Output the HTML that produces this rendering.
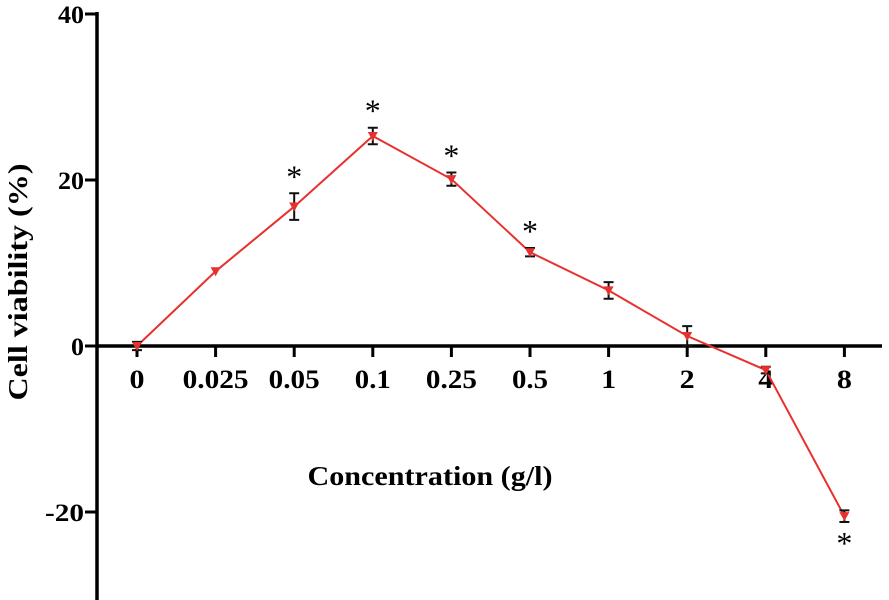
<!DOCTYPE html>
<html><head><meta charset="utf-8"><style>
body{margin:0;background:#fff;}
svg{display:block;font-family:"Liberation Serif",serif;}
</style></head><body>
<svg id="chart" width="889" height="600">
<g id="axes"></g><g id="plot"></g>
<text x="430" y="485" font-size="27" font-weight="bold" text-anchor="middle" textLength="245" lengthAdjust="spacingAndGlyphs">Concentration (g/l)</text>
<text transform="translate(27,282) rotate(-90)" font-size="27" font-weight="bold" text-anchor="middle" textLength="237" lengthAdjust="spacingAndGlyphs">Cell viability (%)</text>
</svg>
<script>
const categories=["0","0.025","0.05","0.1","0.25","0.5","1","2","4","8"];
const values=[0,9,16.8,25.3,20.1,11.3,6.7,1.2,-2.9,-20.5];
const errors=[0.5,0,1.6,1,0.8,0.5,1,1.2,0.4,0.7];
const significant=[0,0,1,1,1,1,0,0,0,-1];
const yTicks=[-20,0,20,40];
const NS="http://www.w3.org/2000/svg";
const x0=137,dx=78.6;
function xs(i){return x0+i*dx;}
function ys(v){return 346-v*8.3;}
function mk(tag,at,parent){const e=document.createElementNS(NS,tag);for(const k in at)e.setAttribute(k,at[k]);parent.appendChild(e);return e;}
const ax=document.getElementById('axes'),pl=document.getElementById('plot');
let e=mk('line',{x1:97,y1:12,x2:97,y2:600,stroke:'#000','stroke-width':3.5},ax);


e=mk('line',{x1:97,y1:ys(0),x2:882,y2:ys(0),stroke:'#000','stroke-width':3.5},ax);


yTicks.forEach(t=>{
 mk('line',{x1:85,y1:ys(t),x2:97,y2:ys(t),stroke:'#000','stroke-width':3},ax);
 const tx=mk('text',{x:84,y:ys(t)+9,'font-size':25,'font-weight':'bold','text-anchor':'end'},ax);
 tx.textContent=t;
 tx.setAttribute('textLength',String(t).length*13);
 tx.setAttribute('lengthAdjust','spacingAndGlyphs');
 
 
});
categories.forEach((c,i)=>{
 mk('line',{x1:xs(i),y1:ys(0),x2:xs(i),y2:ys(0)+11,stroke:'#000','stroke-width':3},ax);
 const tx=mk('text',{x:xs(i),y:388,'font-size':26,'font-weight':'bold','text-anchor':'middle'},ax);
 tx.textContent=c;
 const w=c.replace('.','').length*15+(c.includes('.')?6:0);
 tx.setAttribute('textLength',w);
 tx.setAttribute('lengthAdjust','spacingAndGlyphs');
 
 
});
const pts=values.map((v,i)=>xs(i)+','+ys(v)).join(' ');
e=mk('polyline',{points:pts,fill:'none',stroke:'#e8312f','stroke-width':2},pl);


values.forEach((v,i)=>{
 const x=xs(i),y=ys(v),er=errors[i]*8.3;
 if(er>0){
  const g=mk('path',{d:`M${x},${y-er}V${y+er}M${x-5},${y-er}H${x+5}M${x-5},${y+er}H${x+5}`,stroke:'#111','stroke-width':2,fill:'none'},pl);
  
  
 }
 const m=mk('polygon',{points:`${x-5},${y-4} ${x+5},${y-4} ${x},${y+5}`,fill:'#e8312f'},pl);
 
 
 if(significant[i]){
  const sy=significant[i]>0?y-er-6:y+er+32;
  const s=mk('text',{x:x,y:sy,'font-size':32,'text-anchor':'middle'},pl);
  s.textContent='*';
  
  
 }
});
</script>
</body></html>
